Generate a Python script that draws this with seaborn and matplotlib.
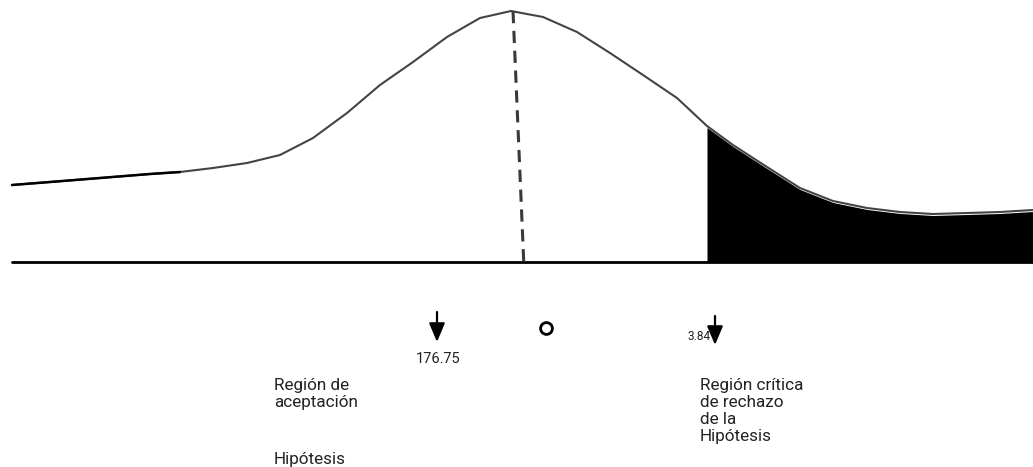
import numpy as np
import seaborn as sns
import matplotlib.pyplot as plt

sns.set_theme(style="white")
plt.rcParams['font.family'] = ['Roboto', 'DejaVu Sans']

# curve (pixel units, y grows downward)
curve_x = [12, 50, 100, 150, 180, 213, 247, 280, 313, 347, 380, 413, 447,
           480, 511, 543, 577, 610, 643, 677, 707, 733, 767, 800, 833, 867,
           900, 933, 967, 1000, 1033]
curve_y = [185, 182, 178, 174, 172, 168, 163, 155, 138, 113, 85, 62, 37,
           18, 11, 17, 32, 53, 75, 98, 126, 145, 167, 188, 201, 208,
           212, 214, 213, 212, 210]
baseline_y = 262
mean_x = [513, 524]
mean_y = [11, 268]
crit_x = 707
labels = ["176.75", "o", "3.84"]
arrow_x = [437, 715]
text_left = "Región de\naceptación"
text_left2 = "Hipótesis"
text_right = "Región crítica\nde rechazo\nde la\nHipótesis"

fig = plt.figure(figsize=(10.33, 4.67), dpi=100)
ax = fig.add_axes([0, 0, 1, 1])

# shaded rejection region
xs = np.linspace(crit_x, curve_x[-1], 300)
ax.fill_between(xs, np.interp(xs, curve_x, curve_y) + 1.5, baseline_y, color="black", lw=0)

sns.lineplot(x=curve_x, y=curve_y, sort=False, color="#444444", lw=1.5, ax=ax)
ax.plot(curve_x[:5], curve_y[:5], color="black", lw=1.8)
ax.plot([12, 1033], [baseline_y, baseline_y], color="black", lw=2)
ax.plot(mean_x, mean_y, color="#3a3a3a", lw=2.2, dashes=(4, 2.5))

# arrows
for ax_x, (y0, y1) in zip(arrow_x, [(312, 342), (316, 345)]):
    ax.annotate("", xy=(ax_x, y1), xytext=(ax_x, y0),
                arrowprops=dict(arrowstyle="-|>,head_width=0.4,head_length=0.95",
                                color="black", lw=1.6, shrinkA=0, shrinkB=0))

ax.text(438, 359, labels[0], ha="center", va="center", fontsize=10.5, color="#222222")
ax.plot([546], [328], marker="o", ms=8.5, mfc="white", mec="black", mew=2)
ax.text(687, 337, labels[2], ha="left", va="center", fontsize=8.5, color="#222222")

ax.text(274, 378, text_left, ha="left", va="top", fontsize=12.3, linespacing=1.2, color="#222222")
ax.text(274, 452, text_left2, ha="left", va="top", fontsize=12.3, color="#222222")
ax.text(700, 378, text_right, ha="left", va="top", fontsize=12.3, linespacing=1.17, color="#222222")

ax.set_xlim(0, 1033)
ax.set_ylim(467, 0)
ax.axis("off")
fig.savefig("out.png", dpi=100)
